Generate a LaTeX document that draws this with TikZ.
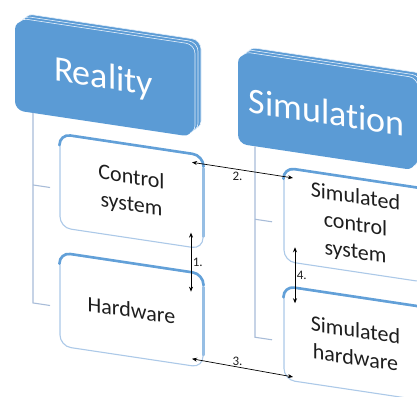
\documentclass[tikz,border=0pt]{standalone}
\usepackage{fontspec}
\setmainfont{Carlito}[Ligatures=NoCommon]
\usetikzlibrary{arrows.meta,calc}

\definecolor{hdrblue}{RGB}{91,155,213}
\definecolor{hdrline}{RGB}{232,241,250}
\definecolor{boxedge}{RGB}{172,201,232}
\definecolor{boxtop}{RGB}{98,160,216}
\definecolor{boxside}{RGB}{150,190,228}
\definecolor{trunk}{RGB}{168,188,216}
\definecolor{txt}{RGB}{30,30,30}

\tikzset{
  header/.style={rectangle, rounded corners=9pt, fill=hdrblue, minimum width=177pt,
    minimum height=90pt, inner sep=0pt, text=white,
    font=\fontsize{36}{40}\selectfont, transform shape},
  layer/.style={rounded corners=9pt, fill=hdrblue, draw=hdrline, line width=0.6pt},
  childbox/.style={rectangle, rounded corners=11pt, fill=white, draw=boxedge,
    line width=1.1pt, minimum width=143pt, minimum height=93pt, inner sep=0pt,
    align=center, text=txt, font=\fontsize{22}{27.5}\selectfont, transform shape},
  topacc/.style={draw=boxtop, line width=2.6pt, rounded corners=11pt, line cap=round},
  sideacc/.style={draw=boxside, line width=2.6pt, line cap=round},
  trunkline/.style={draw=trunk, line width=1.1pt},
  link/.style={{Stealth[length=5pt,width=4pt]}-{Stealth[length=5pt,width=4pt]},
    line width=0.7pt, black},
  num/.style={font=\fontsize{13}{14}\selectfont, text=txt, inner sep=1.5pt},
}

\begin{document}
\begin{tikzpicture}[x=1pt,y=-1pt]
\clip (0,0) rectangle (417,396);
\begin{scope}[yslant=-0.15]
  % stacked header layers (depth effect)
  \foreach \d in {9,6,3}{
    \draw[layer] (15+\d,18-0.9*\d) rectangle (192+\d,108-0.9*\d);
    \draw[layer] (238+\d,18-0.9*\d) rectangle (415+\d,108-0.9*\d);
  }
  % header faces
  \node[header] (real) at (103.5,63) {Reality};
  \node[header] (sim)  at (326.5,63) {Simulation};

  % tree trunks from the headers
  \coordinate (rtop) at (33,108);
  \coordinate (rb1) at (33,180);  \coordinate (rb1e) at (50,180);
  \coordinate (rb2) at (33,298);  \coordinate (rb2e) at (50,298);
  \coordinate (stop) at (255,108);
  \coordinate (sb1) at (255,181); \coordinate (sb1e) at (272,181);
  \coordinate (sb2) at (255,299); \coordinate (sb2e) at (272,299);
  \draw[trunkline] (rtop) -- (rb2) -- (rb2e);
  \draw[trunkline] (rb1) -- (rb1e);
  \draw[trunkline] (stop) -- (sb2) -- (sb2e);
  \draw[trunkline] (sb1) -- (sb1e);

  % child boxes
  \node[childbox] (cs)  at (131.5,172)   {Control\\system};
  \node[childbox] (hw)  at (131.5,290.5) {Hardware};
  \node[childbox] (scs) at (355.5,172)   {Simulated\\control\\system};
  \node[childbox] (shw) at (355.5,290.5) {Simulated\\hardware};

  % bevel accents on top and right edges
  \foreach \b in {cs,hw,scs,shw}{
    \draw[topacc] ($(\b.north west)!0.12!(\b.south west)$) -- (\b.north west)
      -- (\b.north east) -- ($(\b.north east)!0.12!(\b.south east)$);
    \draw[sideacc] ($(\b.north east)!0.14!(\b.south east)$)
      -- ($(\b.north east)!0.86!(\b.south east)$);
  }

  % numbered links between the boxes
  \coordinate (a1s) at (191,204);   \coordinate (a1e) at (191,263);
  \coordinate (a2s) at (192,133.5); \coordinate (a2e) at (293,134);
  \coordinate (a3s) at (192,330);   \coordinate (a3e) at (293,333);
  \coordinate (a4s) at (295,203);   \coordinate (a4e) at (295,259);
  \draw[link] (a1s) -- node[num, right, pos=0.5] {1.} (a1e);
  \draw[link] (a2s) -- node[num, below=1pt, pos=0.45] {2.} (a2e);
  \draw[link] (a3s) -- node[num, above, pos=0.45] {3.} (a3e);
  \draw[link] (a4s) -- node[num, right, pos=0.5] {4.} (a4e);
\end{scope}
\end{tikzpicture}
\end{document}
